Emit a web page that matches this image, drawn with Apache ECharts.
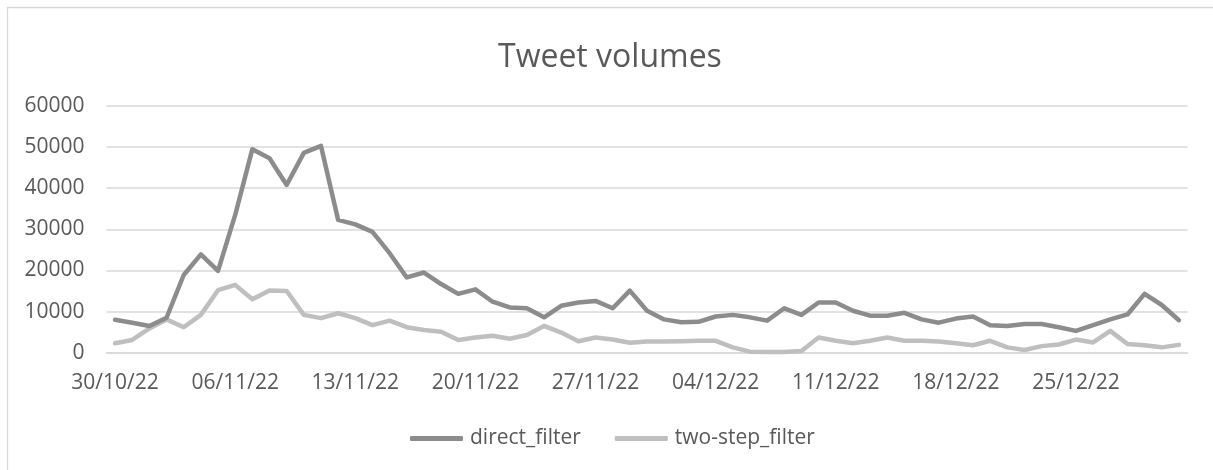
<!DOCTYPE html>
<html>
<head>
<meta charset="utf-8">
<script src="https://cdn.jsdelivr.net/npm/echarts@6/dist/echarts.min.js"></script>
<style>
html,body{margin:0;padding:0;background:#fff;}
#chart{width:1213px;height:470px;}
</style>
</head>
<body>
<div id="chart"></div>
<script>
const dates = [
  '30/10/22','31/10/22','01/11/22','02/11/22','03/11/22','04/11/22','05/11/22',
  '06/11/22','07/11/22','08/11/22','09/11/22','10/11/22','11/11/22','12/11/22',
  '13/11/22','14/11/22','15/11/22','16/11/22','17/11/22','18/11/22','19/11/22',
  '20/11/22','21/11/22','22/11/22','23/11/22','24/11/22','25/11/22','26/11/22',
  '27/11/22','28/11/22','29/11/22','30/11/22','01/12/22','02/12/22','03/12/22',
  '04/12/22','05/12/22','06/12/22','07/12/22','08/12/22','09/12/22','10/12/22',
  '11/12/22','12/12/22','13/12/22','14/12/22','15/12/22','16/12/22','17/12/22',
  '18/12/22','19/12/22','20/12/22','21/12/22','22/12/22','23/12/22','24/12/22',
  '25/12/22','26/12/22','27/12/22','28/12/22','29/12/22','30/12/22','31/12/22'
];
const directFilter = [
  8000, 7300, 6500, 8500, 18900, 23900, 19900,
  33500, 49500, 47300, 40800, 48600, 50300, 32300,
  31200, 29400, 24200, 18300, 19500, 16700, 14300,
  15400, 12400, 11000, 10800, 8600, 11400, 12200,
  12600, 10800, 15100, 10200, 8100, 7400, 7500,
  8800, 9200, 8600, 7800, 10800, 9200, 12200,
  12200, 10200, 9000, 9000, 9700, 8100, 7300,
  8300, 8800, 6700, 6500, 7000, 7000, 6200,
  5300, 6700, 8100, 9300, 14300, 11600, 7900
];
const twoStepFilter = [
  2300, 3100, 5900, 8100, 6200, 9200, 15200,
  16500, 13000, 15100, 15000, 9200, 8400, 9600,
  8400, 6700, 7800, 6200, 5500, 5100, 3100,
  3700, 4100, 3400, 4300, 6500, 4900, 2800,
  3700, 3200, 2400, 2700, 2700, 2800, 2900,
  2900, 1300, 250, 170, 170, 400, 3700,
  2900, 2300, 2900, 3700, 2900, 2900, 2700,
  2300, 1800, 2900, 1300, 650, 1600, 2000,
  3200, 2500, 5300, 2100, 1800, 1300, 1900
];
const yTicks = [0, 10000, 20000, 30000, 40000, 50000, 60000];

const FONT = "'Open Sans', sans-serif";
const TXT = '#595959';
const DARK = '#8c8c8c';
const LIGHT = '#bfbfbf';

const chart = echarts.init(document.getElementById('chart'), null, {renderer: 'canvas'});
chart.setOption({
  animation: false,
  backgroundColor: '#ffffff',
  graphic: [{
    type: 'rect', silent: true, z: -10,
    shape: {x: 7.5, y: 7.5, width: 1400, height: 700},
    style: {fill: 'none', stroke: '#d9d9d9', lineWidth: 1.3}
  }],
  title: {
    text: 'Tweet volumes',
    left: 498, top: 42,
    padding: 0,
    textStyle: {fontFamily: FONT, fontSize: 32, fontWeight: 'normal', color: TXT}
  },
  legend: {
    data: ['direct_filter', 'two-step_filter'],
    left: 410, top: 428,
    padding: 0,
    itemWidth: 53, itemHeight: 5,
    itemGap: 34,
    icon: 'roundRect',
    textStyle: {fontFamily: FONT, fontSize: 21, color: TXT, padding: [0, 0, 0, 2]}
  },
  grid: {left: 106.5, right: 25.5, top: 106, bottom: 117.3, containLabel: false},
  xAxis: {
    type: 'category',
    data: dates,
    boundaryGap: true,
    axisLine: {show: true, lineStyle: {color: '#d9d9d9', width: 1.5}},
    axisTick: {show: false},
    axisLabel: {
      interval: 6,
      margin: 20,
      fontFamily: FONT, fontSize: 21, color: TXT
    },
    splitLine: {show: false}
  },
  yAxis: {
    type: 'value',
    min: yTicks[0], max: yTicks[yTicks.length - 1], interval: 10000,
    axisLine: {show: false},
    axisTick: {show: false},
    axisLabel: {
      margin: 22, fontFamily: FONT, fontSize: 21, color: TXT,
      formatter: function (v) { return String(v); }
    },
    splitLine: {lineStyle: {color: '#d9d9d9', width: 1.5}}
  },
  series: [
    {
      name: 'direct_filter', type: 'line', data: directFilter,
      symbol: 'none', smooth: false,
      itemStyle: {color: DARK},
      lineStyle: {color: DARK, width: 4.5, cap: 'round', join: 'round'},
      z: 3
    },
    {
      name: 'two-step_filter', type: 'line', data: twoStepFilter,
      symbol: 'none', smooth: false,
      itemStyle: {color: LIGHT},
      lineStyle: {color: LIGHT, width: 4.5, cap: 'round', join: 'round'},
      z: 2
    }
  ]
});
</script>
</body>
</html>
